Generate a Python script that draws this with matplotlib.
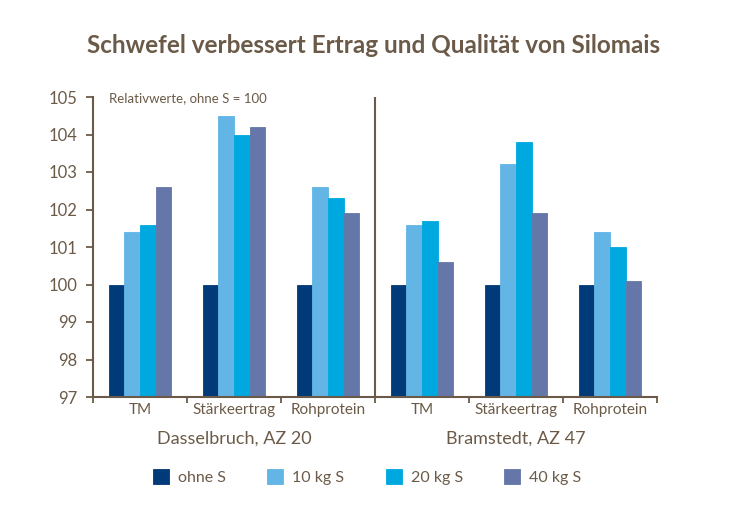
import matplotlib.pyplot as plt
import numpy as np

# data
categories = ["TM", "Stärkeertrag", "Rohprotein", "TM", "Stärkeertrag", "Rohprotein"]
groups = ["Dasselbruch, AZ 20", "Bramstedt, AZ 47"]
series = ["ohne S", "10 kg S", "20 kg S", "40 kg S"]
ohne_s = [100, 100, 100, 100, 100, 100]
kg10 = [101.4, 104.5, 102.6, 101.6, 103.2, 101.4]
kg20 = [101.6, 104.0, 102.3, 101.7, 103.8, 101.0]
kg40 = [102.6, 104.2, 101.9, 100.6, 101.9, 100.1]
yticks = [97, 98, 99, 100, 101, 102, 103, 104, 105]

colors = ["#003a78", "#62b5e5", "#00a8e0", "#6477a8"]
brown = "#6b5a48"
plt.rcParams['font.family'] = ['Lato', 'DejaVu Sans']

fig = plt.figure(figsize=(7.3, 5.16), dpi=100)
ax = fig.add_axes([93/730, 1-397/516, (657-93)/730, 300/516])

x = np.arange(len(categories))
w = 0.167
bars = []
for k, vals in enumerate([ohne_s, kg10, kg20, kg40]):
    b = ax.bar(x + (k-1.5)*w, np.array(vals) - 97, width=w, bottom=97,
               color=colors[k], label=series[k], edgecolor=colors[k], linewidth=0.6)
    bars.append(b)

ax.set_ylim(97, 105)
ax.set_xlim(-0.5, 5.5)
ax.set_yticks(yticks)
ax.set_yticklabels([str(t) for t in yticks], fontsize=12, color=brown)
ax.tick_params(axis='y', direction='out', length=5, width=1.3, color=brown, pad=6)
ax.set_xticks([0.5, 1.5, 3.5, 4.5, 5.5, -0.5, 2.5])
ax.set_xticklabels([])
ax.tick_params(axis='x', direction='out', length=4, width=1.3, color=brown)
for s in ['top', 'right']:
    ax.spines[s].set_visible(False)
for s in ['left', 'bottom']:
    ax.spines[s].set_color(brown)
    ax.spines[s].set_linewidth(1.5)
ax.axvline(2.5, color=brown, lw=1.5, ymin=0, ymax=1.0)

for i, c in enumerate(categories):
    ax.text(i, 96.65, c, ha='center', va='center', fontsize=11, color=brown)
for g, name in enumerate(groups):
    ax.text(1 + 3*g, 95.9, name, ha='center', va='center', fontsize=13, color=brown)

ax.text(-0.33, 104.97, "Relativwerte, ohne S = 100", fontsize=9.5, color=brown, va='center')

fig.text(0.512, 0.912, "Schwefel verbessert Ertrag und Qualität von Silomais",
         ha='center', va='center', fontsize=17.5, fontweight='bold', color=brown)

leg = fig.legend(handles=bars, labels=series, loc='center', bbox_to_anchor=(0.503, 0.075),
                 ncol=4, frameon=False, fontsize=11.5, handlelength=1.0, handleheight=1.0,
                 columnspacing=2.6, handletextpad=0.55, labelcolor=brown)

fig.savefig("out.png", dpi=100)
